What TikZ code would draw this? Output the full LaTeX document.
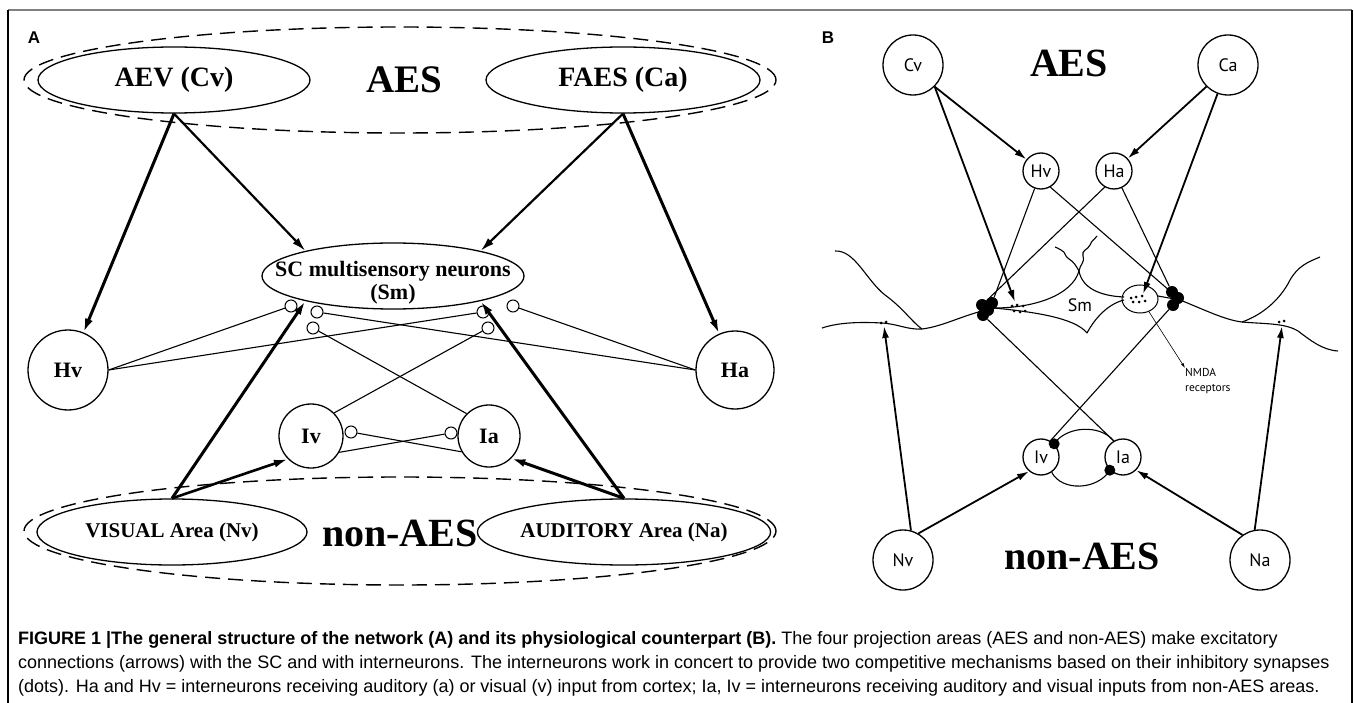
\documentclass[tikz,border=0pt]{standalone}
\usepackage{fontspec}
\setmainfont{Liberation Serif}
\newfontfamily\capfont{Liberation Sans}
\newfontfamily\bsans{PT Sans}
\usetikzlibrary{shapes.geometric,arrows.meta}
\begin{document}
\begin{tikzpicture}[x=1pt,y=-1pt,
  ov/.style={draw,ellipse,line width=1.3pt,inner sep=0pt},
  cir/.style={draw,circle,line width=1.3pt,inner sep=0pt},
  sc/.style={font=\fontsize{#1}{#1}\selectfont\bfseries},
  bl/.style={font=\bsans\fontsize{18}{18}\selectfont},
  inh/.style={draw,circle,line width=1pt,inner sep=0pt,minimum size=12pt,fill=white},
  thinl/.style={line width=1.1pt},
  exA/.style={line width=#1,-{Latex[length=14pt,width=8pt]}},
  exB/.style={line width=1.8pt,-{Latex[length=12pt,width=7pt]}},
  dsh/.style={line width=1.4pt,dash pattern=on 15pt off 8pt},
  fdot/.style={fill=black,circle,inner sep=0pt,minimum size=#1},
  sdot/.style={fill=black,circle,inner sep=0pt,minimum size=3pt},
  captext/.style={anchor=west,inner sep=0pt,font=\capfont\fontsize{18}{18}\selectfont}
]
\useasboundingbox (0,0) rectangle (1354,703);
% frame
\draw[gray,line width=1.5pt] (8,10) -- (1352,10);
\draw[line width=1.1pt] (8,10) -- (8,703);
\draw[line width=1.1pt] (1352,10) -- (1352,703);
\node[font=\capfont\bfseries\fontsize{17}{17}\selectfont] (labA) at (34,38) {A};
\node[font=\capfont\bfseries\fontsize{17}{17}\selectfont] (labB) at (828,38) {B};

% ===== Panel A =====
\draw[dsh] (400,80) ellipse [x radius=376pt, y radius=53pt];
\draw[dsh] (400,531) ellipse [x radius=376pt, y radius=54pt];
\node[ov,minimum width=272pt,minimum height=66pt,sc=28] (aev) at (174,80) {AEV (Cv)};
\node[ov,minimum width=274pt,minimum height=66pt,sc=28] (faes) at (623,80) {FAES (Ca)};
\node[sc=39] (aesA) at (404,80) {AES};
\node[ov,minimum width=262pt,minimum height=66pt] (scn) at (393,276) {};
\node[sc=22,align=center] (sctxt) at (393,283) {SC multisensory neurons\\[1pt](Sm)};
\node[cir,minimum size=80pt,sc=22] (hvA) at (68,370) {Hv};
\node[cir,minimum size=78pt,sc=22] (haA) at (735,370) {Ha};
\node[cir,minimum size=64pt,sc=22] (ivA) at (311,436) {Iv};
\node[cir,minimum size=62pt,sc=22] (iaA) at (489,436) {Ia};
\node[ov,minimum width=270pt,minimum height=66pt,sc=21] (vis) at (172,532) {VISUAL Area (Nv)};
\node[ov,minimum width=272pt,minimum height=66pt,sc=21] (aud) at (624,532) {AUDITORY Area (Na)};
\node[sc=40] (naesA) at (400,533) {non-AES};

% inhibitory synapse circles
\node[inh] (c1) at (291,306) {};
\node[inh] (c2) at (317,312) {};
\node[inh] (c3) at (313,328) {};
\node[inh] (c4) at (483,312) {};
\node[inh] (c5) at (513,306) {};
\node[inh] (c6) at (488,328) {};
\node[inh] (c7) at (351,432) {};
\node[inh] (c8) at (451,433) {};

\draw[thinl] (hvA.east) -- (c1);
\draw[thinl] (hvA.east) -- (c4);
\draw[thinl] (haA.west) -- (c2);
\draw[thinl] (haA.west) -- (c5);
\draw[thinl] (ivA.45) -- (c6);
\draw[thinl] (iaA.135) -- (c3);
\draw[thinl] (ivA.-30) -- (c8);
\draw[thinl] (iaA.-150) -- (c7);

% excitatory arrows
\draw[exA=3pt] (aev.south) -- (hvA);
\draw[exA=2.2pt] (aev.south) -- (scn.164);
\draw[exA=2.2pt] (faes.south) -- (scn.16);
\draw[exA=3pt] (faes.south) -- (haA);
\draw[exA=3pt] (vis.north) -- (scn.-164);
\draw[exA=2.6pt] (vis.north) -- (ivA.-135);
\draw[exA=3pt] (aud.north) -- (scn.-16);
\draw[exA=3pt] (aud.north) -- (iaA.-45);

% ===== Panel B =====
\node[cir,minimum size=60pt,bl] (cv) at (913,65) {Cv};
\node[cir,minimum size=60pt,bl] (ca) at (1228,65) {Ca};
\node[sc=40] (aesB) at (1069,63) {AES};
\node[cir,minimum size=36pt,bl] (hvB) at (1041,171) {Hv};
\node[cir,minimum size=36pt,bl] (haB) at (1114,171) {Ha};
\node[cir,minimum size=36pt,bl] (ivB) at (1041,457) {Iv};
\node[cir,minimum size=36pt,bl] (iaB) at (1123,457) {Ia};
\node[cir,minimum size=60pt,bl] (nv) at (903,560) {Nv};
\node[cir,minimum size=60pt,bl] (na) at (1260,560) {Na};
\node[sc=40] (naesB) at (1082,556) {non-AES};
\node[bl] (sm) at (1080,305) {Sm};
\node[font=\bsans\fontsize{11.5}{15}\selectfont,align=left,anchor=north west,inner sep=0pt] (nmda) at (1185,368) {NMDA\\receptors};

% membrane / neuron outline
\coordinate (L) at (994,308);
\coordinate (T) at (1079,271);
\coordinate (R) at (1180,300);
\coordinate (Bt) at (1087,333);
\coordinate (J) at (922,329);
\coordinate (J2) at (1242,322);
\draw[thinl] (822,328) .. controls (840,322) and (862,322) .. (882,323)
   .. controls (898,324) and (908,330) .. (J) .. controls (945,326) and (962,315) .. (L);
\draw[thinl] (835,251) .. controls (855,250) and (866,280) .. (885,295)
   .. controls (903,308) and (912,322) .. (J);
\draw[thinl] (L) .. controls (1035,308) and (1072,295) .. (T);
\draw[thinl] (T) .. controls (1082,288) and (1100,296) .. (1124,297);
\draw[thinl] (L) .. controls (1035,312) and (1075,318) .. (Bt);
\draw[thinl] (Bt) .. controls (1095,318) and (1108,304) .. (1124,300);
\draw[thinl] (T) .. controls (1076,266) and (1074,262) .. (1069,259) .. controls (1064,256) and (1066,252) .. (1061,250) .. controls (1058,248) and (1057,248) .. (1055,247);
\draw[thinl] (T) .. controls (1080,264) and (1085,263) .. (1083,256) .. controls (1081,250) and (1088,250) .. (1090,245) .. controls (1092,240) and (1094,240) .. (1097,236);
\draw[thinl] (1158,296) -- (R);
\draw[thinl] (R) .. controls (1205,310) and (1225,320) .. (J2)
   .. controls (1265,324) and (1285,323) .. (1298,331) .. controls (1310,340) and (1322,350) .. (1338,351);
\draw[thinl] (J2) .. controls (1262,315) and (1280,300) .. (1290,280) .. controls (1298,266) and (1308,262) .. (1320,257);
\node[draw,ellipse,line width=1pt,minimum width=36pt,minimum height=28pt] (nmdae) at (1140,299) {};
\draw[line width=0.6pt,-{Latex[length=5pt,width=3pt]}] (nmdae.-55) -- (nmda.north west);

% synapse clusters
\node[fdot=12pt] (l1) at (982,305) {};
\node[fdot=12pt] (l2) at (992,303) {};
\node[fdot=12pt] (l3) at (988,310) {};
\node[fdot=12pt] (l4) at (983,315) {};
\node[fdot=12pt] (r1) at (1172,292) {};
\node[fdot=12pt] (r2) at (1178,298) {};
\node[fdot=12pt] (r3) at (1173,305) {};
\foreach \p in {(1012,306),(1017,305),(1023,306),(1014,311),(1020,312),(1025,311),
                (1131,298),(1136,297),(1142,296),(1133,302),(1139,302),(1145,301),
                (881,323),(886,322),(1279,322),(1284,321)}
  \node[sdot] at \p {};
\coordinate (synL) at (1015,302);
\coordinate (synR) at (1143,294);
\coordinate (mL) at (884,326);
\coordinate (mR) at (1282,326);

% inhibitory lines B
\draw[thinl] (hvB.-110) -- (l2);
\draw[thinl] (hvB.-60) -- (r2);
\draw[thinl] (haB.-120) -- (l1);
\draw[thinl] (haB.-65) -- (r1);
\draw[thinl] (ivB.60) -- (r3);
\draw[thinl] (iaB.120) -- (l4);
\draw[thinl] (ivB.45) .. controls (1066,426) and (1100,424) .. (iaB.120);
\draw[thinl] (ivB.-55) .. controls (1062,492) and (1098,490) .. (iaB.-135);
\node[fdot=11pt] (dI1) at (ivB.45) {};
\node[fdot=11pt] (dI2) at (iaB.-135) {};

% excitatory arrows B
\draw[exB] (cv.-45) -- (hvB);
\draw[exB] (cv.-45) -- (synL);
\draw[exB] (ca.-135) -- (haB);
\draw[exB] (ca.-110) -- (synR);
\draw[exB] (nv.75) -- (mL);
\draw[exB] (na.100) -- (mR);
\draw[exB] (nv.60) -- (ivB.-130);
\draw[exB] (na.125) -- (iaB.-45);

% caption
\node[captext] (cap1) at (18,640) {\textbf{FIGURE 1 |The general structure of the network (A) and its physiological counterpart (B).} The four projection areas (AES and non-AES) make excitatory};
\node[captext] (cap2) at (18,664) {connections (arrows) with the SC and with interneurons. The interneurons work in concert to provide two competitive mechanisms based on their inhibitory synapses};
\node[captext] (cap3) at (18,688) {(dots). Ha and Hv = interneurons receiving auditory (a) or visual (v) input from cortex; Ia, Iv = interneurons receiving auditory and visual inputs from non-AES areas.};
\end{tikzpicture}
\end{document}
